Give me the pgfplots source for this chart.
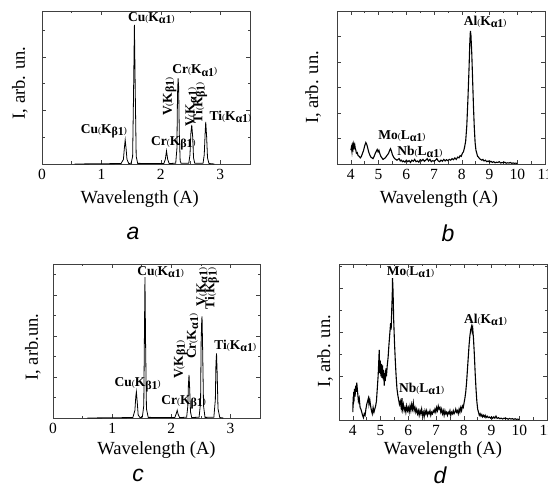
\documentclass[border=0pt]{standalone}
\usepackage{pgfplots}
\pgfplotsset{compat=1.18}
\usepackage{fontspec}
\setmainfont{Liberation Serif}
\newfontfamily\sansit{Liberation Sans}
\newcommand{\sm}[1]{{\fontsize{9}{9}\selectfont\mdseries #1}}
\newcommand{\pl}[3]{{\fontsize{13.5}{13.5}\selectfont\textbf{#1}\sm{(}\textbf{#2}\raisebox{-0.35ex}{\fontsize{12}{12}\selectfont\bfseries #3}\sm{)}}}
\definecolor{frame}{gray}{0.25}
\pgfplotsset{
  spec/.style={
    scale only axis, clip=false, anchor=south west,
    axis line style={frame, line width=0.8pt},
    tick style={frame, line width=0.6pt},
    tick align=inside,
    major tick length=4pt, minor tick length=2.5pt,
    ymin=0, ymax=1,
    yticklabels={},
    minor x tick num=1,
    /pgf/number format/assume math mode=true,
    ticklabel style={font=\fontsize{15.5}{15.5}\selectfont},
    xticklabel style={yshift=-1.5pt},
    label style={font=\fontsize{18.5}{18.5}\selectfont},
    xlabel={Wavelength (A)},
    ylabel={I, arb. un.},
  },
  dataline/.style={black, line width=0.8pt, mark=none},
}
\begin{document}
\begin{tikzpicture}
\path[use as bounding box] (0,0) rectangle (548pt,487pt);
% ---------- a ----------
\begin{axis}[spec, at={(42pt,323pt)}, width=208pt, height=153pt,
  xmin=0, xmax=3.5, xtick={0,1,2,3},
  ytick={0.35,0.70}, minor ytick={0.175,0.525,0.875},
  xlabel style={at={(axis description cs:0.47,-0.232)}, anchor=center},
  ylabel style={at={(axis description cs:-0.106,0.53)}, anchor=center}]
\addplot[dataline] coordinates {
(0.55,0) (1.33,0.003) (1.37,0.03) (1.385,0.10) (1.40,0.157) (1.415,0.10) (1.43,0.03) (1.46,0.003)
(1.50,0.005) (1.525,0.05) (1.54,0.45) (1.555,0.91) (1.57,0.45) (1.585,0.05) (1.61,0.004)
(2.05,0.003) (2.075,0.03) (2.095,0.085) (2.115,0.03) (2.14,0.003)
(2.25,0.005) (2.27,0.1) (2.28,0.45) (2.29,0.56) (2.30,0.5) (2.31,0.2) (2.325,0.02) (2.34,0.005)
(2.47,0.005) (2.49,0.06) (2.505,0.2) (2.52,0.255) (2.535,0.18) (2.55,0.04) (2.57,0.005)
(2.71,0.005) (2.73,0.06) (2.745,0.2) (2.755,0.275) (2.77,0.18) (2.785,0.04) (2.81,0.003) (2.9,0)
};
\node at (axis cs:1.84,0.955) {\pl{Cu}{K}{α1}};
\node at (axis cs:1.04,0.215) {\pl{Cu}{K}{β1}};
\node at (axis cs:2.21,0.137) {\pl{Cr}{K}{β1}};
\node at (axis cs:2.57,0.61) {\pl{Cr}{K}{α1}};
\node[rotate=90] at (axis cs:2.15,0.44) {\pl{V}{K}{β1}};
\node[rotate=90] at (axis cs:2.51,0.37) {\pl{V}{K}{α1}};
\node[rotate=90] at (axis cs:2.66,0.40) {\pl{Ti}{K}{β1}};
\node at (axis cs:3.17,0.31) {\pl{Ti}{K}{α1}};
\end{axis}
% ---------- b ----------
\begin{axis}[spec, at={(337pt,323pt)}, width=208pt, height=153pt,
  xmin=3.5, xmax=11, xtick={4,5,6,7,8,9,10,11},
  ytick={0.1667,0.3333,0.5,0.6667,0.8333},
  xlabel style={at={(axis description cs:0.49,-0.232)}, anchor=center},
  ylabel style={at={(axis description cs:-0.115,0.50)}, anchor=center}]
\addplot[dataline, line width=1.1pt] coordinates {
(4.00,0.09) (4.02,0.11) (4.04,0.08) (4.06,0.12) (4.08,0.10) (4.10,0.13) (4.12,0.11) (4.14,0.125)
(4.16,0.10) (4.18,0.09) (4.20,0.07) (4.23,0.075) (4.26,0.055) (4.30,0.05) (4.34,0.04) (4.38,0.05)
(4.42,0.07) (4.46,0.09) (4.50,0.12) (4.54,0.14) (4.57,0.13) (4.60,0.11) (4.64,0.08) (4.68,0.06)
(4.72,0.045) (4.76,0.04) (4.80,0.035) (4.84,0.05) (4.88,0.07) (4.92,0.085) (4.95,0.095) (4.98,0.08)
(5.01,0.09) (5.04,0.07) (5.08,0.05) (5.12,0.04) (5.16,0.03) (5.20,0.035) (5.24,0.04) (5.28,0.05)
(5.32,0.06) (5.36,0.07) (5.40,0.09) (5.43,0.10) (5.46,0.085) (5.50,0.06) (5.54,0.045) (5.58,0.035)
(5.62,0.03) (5.66,0.025) (5.70,0.03) (5.74,0.035) (5.78,0.02) (5.82,0.025) (5.86,0.015)
(5.90,0.02) (5.95,0.012) (6.00,0.025) (6.05,0.015) (6.10,0.022) (6.15,0.01) (6.20,0.025) (6.25,0.018)
(6.30,0.03) (6.35,0.015) (6.40,0.02) (6.45,0.012) (6.50,0.028) (6.55,0.02) (6.60,0.03) (6.65,0.018)
(6.70,0.025) (6.75,0.035) (6.80,0.02) (6.85,0.03) (6.90,0.015) (6.95,0.022) (7.00,0.018) (7.05,0.025)
(7.10,0.035) (7.15,0.02) (7.20,0.015) (7.25,0.025) (7.30,0.018) (7.35,0.03) (7.40,0.02) (7.45,0.028)
(7.50,0.022) (7.55,0.03) (7.60,0.025) (7.65,0.035) (7.70,0.028) (7.75,0.04) (7.80,0.03) (7.85,0.045)
(7.90,0.04) (7.94,0.055) (7.98,0.05) (8.02,0.07) (8.06,0.08) (8.10,0.11) (8.14,0.15) (8.18,0.25)
(8.22,0.42) (8.26,0.62) (8.29,0.80) (8.31,0.87) (8.33,0.84) (8.36,0.72) (8.39,0.55) (8.42,0.38)
(8.45,0.24) (8.48,0.14) (8.51,0.09) (8.54,0.07) (8.57,0.05) (8.60,0.045) (8.64,0.035) (8.68,0.03)
(8.72,0.025) (8.76,0.03) (8.80,0.02) (8.85,0.025) (8.90,0.015) (8.95,0.02) (9.00,0.012) (9.05,0.018)
(9.10,0.01) (9.15,0.015) (9.20,0.008) (9.25,0.012) (9.30,0.01) (9.35,0.015) (9.40,0.006) (9.45,0.01)
(9.50,0.008) (9.55,0.012) (9.60,0.005) (9.65,0.008) (9.70,0.006) (9.75,0.01) (9.80,0.004) (9.85,0.007)
(9.90,0.004) (9.95,0.006) (10.00,0.003)
};
\node at (axis cs:8.84,0.93) {\pl{Al}{K}{α1}};
\node at (axis cs:5.84,0.18) {\pl{Mo}{L}{α1}};
\node at (axis cs:6.49,0.08) {\pl{Nb}{L}{α1}};
\end{axis}
% ---------- c ----------
\begin{axis}[spec, at={(53pt,69pt)}, width=207pt, height=154pt,
  xmin=0, xmax=3.5, xtick={0,1,2,3},
  ytick={0.2662,0.5324,0.7986}, minor ytick={0.1331,0.3993,0.6655,0.9317},
  ylabel={I, arb.un.},
  xlabel style={at={(axis description cs:0.50,-0.21)}, anchor=center},
  ylabel style={at={(axis description cs:-0.097,0.46)}, anchor=center}]
\addplot[dataline] coordinates {
(0.58,0) (1.35,0.003) (1.385,0.05) (1.40,0.14) (1.41,0.17) (1.425,0.1) (1.44,0.02) (1.47,0.003)
(1.51,0.005) (1.535,0.08) (1.545,0.5) (1.555,0.915) (1.565,0.5) (1.58,0.06) (1.61,0.004)
(2.06,0.003) (2.085,0.03) (2.10,0.05) (2.115,0.025) (2.14,0.003)
(2.26,0.005) (2.28,0.08) (2.29,0.22) (2.30,0.28) (2.31,0.2) (2.325,0.04) (2.345,0.003)
(2.47,0.005) (2.495,0.1) (2.505,0.5) (2.515,0.64) (2.52,0.66) (2.53,0.45) (2.545,0.08) (2.57,0.004)
(2.72,0.005) (2.745,0.12) (2.755,0.35) (2.765,0.42) (2.775,0.3) (2.79,0.06) (2.82,0.003) (2.88,0)
};
\node at (axis cs:1.82,0.95) {\pl{Cu}{K}{α1}};
\node at (axis cs:1.43,0.215) {\pl{Cu}{K}{β1}};
\node at (axis cs:2.21,0.10) {\pl{Cr}{K}{β1}};
\node[rotate=90] at (axis cs:2.16,0.38) {\pl{V}{K}{β1}};
\node[rotate=90] at (axis cs:2.36,0.53) {\pl{Cr}{K}{α1}};
\node[rotate=90] at (axis cs:2.52,0.85) {\pl{V}{K}{α1}};
\node[rotate=90] at (axis cs:2.69,0.84) {\pl{Ti}{K}{β1}};
\node at (axis cs:3.08,0.47) {\pl{Ti}{K}{α1}};
\end{axis}
% ---------- d ----------
\begin{axis}[spec, at={(339pt,67pt)}, width=208pt, height=156pt,
  xmin=3.5, xmax=11, xtick={4,5,6,7,8,9,10,11},
  ytick={0.282,0.564,0.846}, minor ytick={0.141,0.423,0.705,0.987},
  xlabel style={at={(axis description cs:0.50,-0.19)}, anchor=center},
  ylabel style={at={(axis description cs:-0.067,0.44)}, anchor=center}]
\addplot[dataline, line width=1.1pt] coordinates {
(4.00,0.05) (4.01,0.15) (4.02,0.10) (4.03,0.18) (4.04,0.12) (4.06,0.20) (4.08,0.15) (4.10,0.22)
(4.12,0.18) (4.14,0.24) (4.16,0.20) (4.18,0.16) (4.20,0.12) (4.23,0.14) (4.26,0.08) (4.29,0.07)
(4.32,0.05) (4.35,0.03) (4.38,0.015) (4.41,0.04) (4.44,0.03) (4.47,0.07) (4.50,0.10) (4.53,0.12)
(4.56,0.14) (4.58,0.10) (4.61,0.13) (4.64,0.09) (4.67,0.06) (4.70,0.04) (4.73,0.08) (4.76,0.05)
(4.79,0.07) (4.82,0.09) (4.85,0.12) (4.88,0.20) (4.91,0.28) (4.93,0.36) (4.95,0.45) (4.97,0.30)
(4.99,0.38) (5.01,0.28) (5.03,0.36) (5.05,0.27) (5.07,0.35) (5.09,0.26) (5.11,0.32) (5.13,0.22)
(5.15,0.30) (5.17,0.25) (5.19,0.33) (5.21,0.28) (5.24,0.35) (5.27,0.40) (5.30,0.48) (5.33,0.55)
(5.36,0.62) (5.38,0.58) (5.40,0.70) (5.42,0.80) (5.43,0.91) (5.45,0.82) (5.47,0.65) (5.50,0.50)
(5.53,0.38) (5.56,0.28) (5.59,0.20) (5.62,0.16) (5.65,0.13) (5.68,0.10) (5.71,0.12) (5.74,0.08)
(5.77,0.14) (5.79,0.07) (5.82,0.10) (5.85,0.06) (5.88,0.08) (5.91,0.05) (5.94,0.09) (5.97,0.06)
(6.00,0.08) (6.03,0.05) (6.06,0.09) (6.09,0.06) (6.12,0.10) (6.15,0.07) (6.18,0.11) (6.21,0.06)
(6.24,0.08) (6.27,0.05) (6.30,0.07) (6.33,0.04) (6.36,0.06) (6.39,0.03) (6.42,0.06) (6.45,0.04)
(6.48,0.07) (6.51,0.03) (6.54,0.05) (6.57,0.02) (6.60,0.06) (6.63,0.04) (6.66,0.06) (6.69,0.03)
(6.72,0.05) (6.75,0.04) (6.78,0.06) (6.81,0.03) (6.84,0.05) (6.87,0.04) (6.90,0.06) (6.93,0.05)
(6.96,0.07) (6.99,0.05) (7.02,0.08) (7.05,0.06) (7.08,0.09) (7.11,0.07) (7.14,0.08) (7.17,0.05)
(7.20,0.07) (7.23,0.04) (7.26,0.06) (7.29,0.03) (7.32,0.06) (7.35,0.04) (7.38,0.05) (7.41,0.03)
(7.44,0.05) (7.47,0.04) (7.50,0.06) (7.53,0.03) (7.56,0.05) (7.59,0.04) (7.62,0.06) (7.65,0.04)
(7.68,0.05) (7.71,0.07) (7.74,0.05) (7.77,0.06) (7.80,0.04) (7.83,0.07) (7.86,0.05) (7.89,0.08)
(7.92,0.06) (7.95,0.09) (7.98,0.08) (8.01,0.11) (8.04,0.14) (8.07,0.18) (8.10,0.24) (8.13,0.32)
(8.16,0.40) (8.19,0.48) (8.22,0.54) (8.25,0.58) (8.28,0.60) (8.30,0.57) (8.32,0.59) (8.35,0.52)
(8.38,0.42) (8.41,0.30) (8.44,0.20) (8.47,0.12) (8.50,0.07) (8.53,0.05) (8.56,0.03) (8.59,0.04)
(8.62,0.025) (8.65,0.035) (8.68,0.02) (8.71,0.03) (8.74,0.02) (8.77,0.03) (8.80,0.015) (8.84,0.025)
(8.88,0.015) (8.92,0.02) (8.96,0.012) (9.00,0.02) (9.04,0.01) (9.08,0.02) (9.12,0.012) (9.16,0.025)
(9.20,0.01) (9.25,0.015) (9.30,0.008) (9.35,0.012) (9.40,0.006) (9.45,0.012) (9.50,0.008) (9.55,0.01)
(9.60,0.005) (9.65,0.01) (9.70,0.006) (9.75,0.009) (9.80,0.004) (9.85,0.008) (9.90,0.004) (9.95,0.006)
(10.00,0.003)
};
\node at (axis cs:6.08,0.95) {\pl{Mo}{L}{α1}};
\node at (axis cs:8.78,0.64) {\pl{Al}{K}{α1}};
\node at (axis cs:6.48,0.20) {\pl{Nb}{L}{α1}};
\end{axis}
% panel letters
\node[font=\sansit\itshape\fontsize{23}{23}\selectfont] at (133pt,254pt) {a};
\node[font=\sansit\itshape\fontsize{23}{23}\selectfont] at (448pt,254pt) {b};
\node[font=\sansit\itshape\fontsize{23}{23}\selectfont] at (138pt,12pt) {c};
\node[font=\sansit\itshape\fontsize{23}{23}\selectfont] at (440pt,12pt) {d};
\end{tikzpicture}
\end{document}
